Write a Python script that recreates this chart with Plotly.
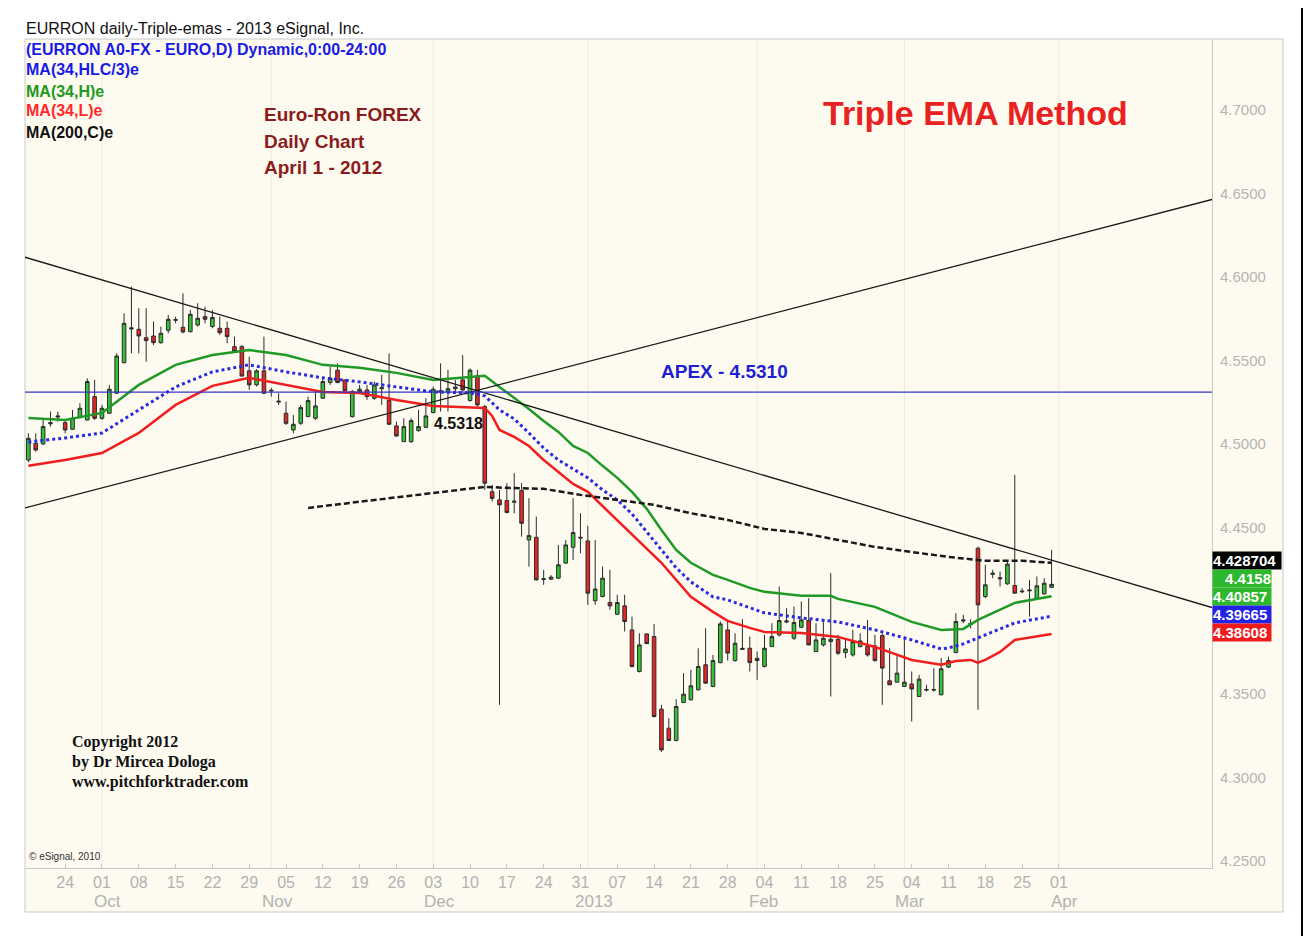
import pandas as pd
import plotly.graph_objects as go

# ---------------- data ----------------
dates = pd.bdate_range("2012-09-17", "2013-03-29")

opens = [4.4903,4.5003,4.4999,4.5120,4.5160,4.5127,4.5087,4.5163,4.5143,4.5283,
         4.5153,4.5183,4.5303,4.5486,4.5695,4.5686,4.5636,4.5646,4.5606,4.5680,
         4.5740,4.5698,4.5672,4.5712,4.5762,4.5703,4.5692,4.5692,4.5582,4.5582,
         4.5437,4.5353,4.5437,4.5316,4.5250,4.5183,4.5083,4.5123,4.5163,4.5153,
         4.5273,4.5367,4.5441,4.5383,4.5163,4.5313,4.5323,4.5273,4.5330,4.5259,
         4.5107,4.5013,4.5013,4.5079,4.5099,4.5187,4.5310,4.5310,4.5330,4.5383,
         4.5259,4.5407,4.5223,4.4713,4.4664,4.4660,4.4650,4.4720,4.4424,4.4440,
         4.4187,4.4189,4.4195,4.4285,4.4380,4.4440,4.4418,4.4060,4.4085,4.4049,
         4.3979,4.4029,4.3885,4.3636,4.3861,4.3845,4.3410,4.3296,4.3222,4.3450,
         4.3466,4.3526,4.3676,4.3546,4.3689,4.3885,4.3701,4.3768,4.3775,4.3715,
         4.3666,4.3785,4.3855,4.3932,4.3835,4.3901,4.3941,4.3755,4.3795,4.3815,
         4.3829,4.3749,4.3735,4.3785,4.3785,4.3789,4.3851,4.3580,4.3572,4.3546,
         4.3561,4.3486,4.3524,4.3524,4.3496,4.3662,4.3749,4.3938,4.3924,4.4374,
         4.4085,4.4218,4.4198,4.4161,4.4151,4.4113,4.4119,4.4075,4.4101,4.4140]
highs = [4.5063,4.5063,4.5143,4.5193,4.5193,4.5143,4.5203,4.5243,4.5393,4.5383,
         4.5233,4.5353,4.5542,4.5782,4.5942,4.5812,4.5812,4.5732,4.5702,4.5772,
         4.5762,4.5902,4.5802,4.5842,4.5822,4.5802,4.5762,4.5732,4.5642,4.5592,
         4.5522,4.5447,4.5642,4.5335,4.5303,4.5253,4.5173,4.5233,4.5283,4.5323,
         4.5403,4.5462,4.5482,4.5385,4.5323,4.5353,4.5353,4.5373,4.5413,4.5542,
         4.5133,4.5153,4.5153,4.5203,4.5273,4.5343,4.5482,4.5443,4.5383,4.5532,
         4.5452,4.5443,4.5233,4.4754,4.4724,4.4764,4.4824,4.4764,4.4674,4.4564,
         4.4245,4.4213,4.4394,4.4424,4.4674,4.4584,4.4508,4.4424,4.4265,4.4245,
         4.4095,4.4095,4.3965,4.3865,4.3865,4.3921,4.3436,4.3356,4.3470,4.3626,
         4.3646,4.3775,4.3895,4.3735,4.3935,4.3935,4.3865,4.3949,4.3845,4.3755,
         4.3855,4.3925,4.4145,4.4015,4.4025,4.4055,4.4075,4.3925,4.3945,4.4225,
         4.3855,4.3825,4.3885,4.3865,4.3945,4.3855,4.3865,4.3775,4.3735,4.3845,
         4.3636,4.3616,4.3556,4.3656,4.3716,4.3725,4.3985,4.3975,4.3949,4.4384,
         4.4275,4.4245,4.4235,4.4304,4.4814,4.4135,4.4185,4.4205,4.4195,4.4364]
lows = [4.4890,4.4953,4.4993,4.5103,4.5133,4.5063,4.5083,4.5153,4.5140,4.5143,
        4.5143,4.5180,4.5300,4.5482,4.5542,4.5542,4.5492,4.5592,4.5600,4.5662,
        4.5722,4.5662,4.5668,4.5702,4.5722,4.5692,4.5652,4.5602,4.5550,4.5402,
        4.5323,4.5343,4.5300,4.5283,4.5233,4.5113,4.5063,4.5113,4.5160,4.5143,
        4.5270,4.5353,4.5363,4.5313,4.5157,4.5303,4.5263,4.5263,4.5233,4.5113,
        4.5043,4.5013,4.5005,4.5073,4.5093,4.5183,4.5193,4.5193,4.5300,4.5313,
        4.5253,4.5223,4.4724,4.4654,4.3436,4.4584,4.4584,4.4444,4.4264,4.4180,
        4.4155,4.4185,4.4189,4.4283,4.4304,4.4344,4.4035,4.4035,4.4080,4.4005,
        4.3975,4.3875,4.3660,4.3630,4.3800,4.3360,4.3154,4.3220,4.3218,4.3446,
        4.3462,4.3522,4.3562,4.3542,4.3685,4.3701,4.3695,4.3765,4.3636,4.3586,
        4.3660,4.3783,4.3845,4.3925,4.3825,4.3895,4.3793,4.3753,4.3785,4.3486,
        4.3735,4.3715,4.3725,4.3780,4.3725,4.3695,4.3436,4.3554,4.3570,4.3544,
        4.3336,4.3484,4.3516,4.3516,4.3494,4.3656,4.3745,4.3925,4.3895,4.3406,
        4.4075,4.4195,4.4145,4.4155,4.4105,4.4105,4.3965,4.4070,4.4095,4.4135]
closes = [4.5033,4.4963,4.5103,4.5126,4.5166,4.5083,4.5153,4.5213,4.5373,4.5153,
          4.5213,4.5327,4.5526,4.5722,4.5689,4.5646,4.5618,4.5606,4.5662,4.5746,
          4.5744,4.5670,4.5776,4.5752,4.5746,4.5757,4.5666,4.5642,4.5552,4.5406,
          4.5353,4.5437,4.5303,4.5320,4.5255,4.5123,4.5117,4.5217,4.5259,4.5227,
          4.5373,4.5393,4.5367,4.5317,4.5313,4.5327,4.5283,4.5353,4.5336,4.5117,
          4.5047,4.5103,4.5139,4.5103,4.5167,4.5327,4.5318,4.5330,4.5340,4.5323,
          4.5441,4.5233,4.4764,4.4673,4.4634,4.4588,4.4656,4.4524,4.4450,4.4185,
          4.4191,4.4201,4.4275,4.4394,4.4468,4.4436,4.4105,4.4130,4.4195,4.4029,
          4.4049,4.3935,4.3666,4.3795,4.3803,4.3366,4.3166,4.3222,4.3426,4.3500,
          4.3550,4.3666,4.3566,4.3701,4.3921,4.3746,4.3805,4.3774,4.3689,4.3701,
          4.3775,4.3845,4.3941,4.3938,4.3929,4.3945,4.3795,4.3825,4.3835,4.3829,
          4.3745,4.3771,4.3815,4.3819,4.3735,4.3701,4.3656,4.3556,4.3626,4.3572,
          4.3531,4.3590,4.3528,4.3528,4.3652,4.3701,4.3935,4.3944,4.3918,4.4035,
          4.4155,4.4224,4.4192,4.4279,4.4105,4.4117,4.4123,4.4149,4.4165,4.4158]

# MA(34,H)e  - green
ema_h_dates = ["2012-09-17","2012-09-24","2012-10-01","2012-10-08","2012-10-15","2012-10-22",
               "2012-10-29","2012-11-05","2012-11-12","2012-11-19","2012-11-26","2012-12-03",
               "2012-12-10","2012-12-12","2012-12-14","2012-12-18","2012-12-20","2012-12-24",
               "2012-12-26","2012-12-28","2013-01-01","2013-01-03","2013-01-07","2013-01-09",
               "2013-01-11","2013-01-15","2013-01-17","2013-01-21","2013-01-24","2013-01-28",
               "2013-01-31","2013-02-04","2013-02-11","2013-02-15","2013-02-18","2013-02-25",
               "2013-03-04","2013-03-08","2013-03-13","2013-03-15","2013-03-20","2013-03-22",
               "2013-03-29"]
ema_h_vals = [4.5155,4.5143,4.5185,4.5353,4.5473,4.5532,4.5562,4.5532,4.5473,4.5455,
              4.5425,4.5383,4.5401,4.5407,4.5341,4.5275,4.5209,4.5137,4.5071,4.4987,
              4.4945,4.4868,4.4796,4.4712,4.4610,4.4484,4.4364,4.4287,4.4215,4.4185,
              4.4137,4.4113,4.4089,4.4089,4.4071,4.4023,4.3933,4.3885,4.3891,4.3945,
              4.4005,4.4047,4.4086]

# MA(34,HLC/3)e - blue
ema_t_dates = ["2012-09-17","2012-09-24","2012-10-01","2012-10-08","2012-10-15","2012-10-22",
               "2012-10-29","2012-11-05","2012-11-12","2012-11-19","2012-11-26","2012-12-03",
               "2012-12-10","2012-12-12","2012-12-14","2012-12-18","2012-12-20","2012-12-24",
               "2012-12-26","2012-12-28","2013-01-01","2013-01-03","2013-01-07","2013-01-09",
               "2013-01-11","2013-01-15","2013-01-17","2013-01-21","2013-01-24","2013-01-28",
               "2013-01-31","2013-02-04","2013-02-11","2013-02-18","2013-02-25","2013-03-04",
               "2013-03-08","2013-03-11","2013-03-13","2013-03-15","2013-03-22","2013-03-29"]
ema_t_vals = [4.5011,4.5035,4.5065,4.5203,4.5341,4.5431,4.5473,4.5431,4.5395,4.5371,
              4.5341,4.5311,4.5305,4.5287,4.5203,4.5149,4.5065,4.4975,4.4903,4.4850,
              4.4796,4.4724,4.4664,4.4580,4.4472,4.4364,4.4257,4.4173,4.4083,4.4065,
              4.4017,4.3987,4.3957,4.3933,4.3885,4.3825,4.3771,4.3777,4.3801,4.3837,
              4.3927,4.3967]

# MA(34,L)e - red
ema_l_dates = ["2012-09-17","2012-09-24","2012-10-01","2012-10-08","2012-10-15","2012-10-22",
               "2012-10-29","2012-11-05","2012-11-12","2012-11-19","2012-11-26","2012-12-03",
               "2012-12-10","2012-12-12","2012-12-13","2012-12-14","2012-12-18","2012-12-20",
               "2012-12-24","2012-12-26","2012-12-28","2013-01-01","2013-01-03","2013-01-07",
               "2013-01-09","2013-01-11","2013-01-15","2013-01-17","2013-01-21","2013-01-24",
               "2013-01-28","2013-01-31","2013-02-04","2013-02-11","2013-02-18","2013-02-25",
               "2013-03-04","2013-03-08","2013-03-12","2013-03-14","2013-03-15","2013-03-18",
               "2013-03-20","2013-03-22","2013-03-29"]
ema_l_vals = [4.4868,4.4903,4.4945,4.5065,4.5233,4.5347,4.5395,4.5353,4.5311,4.5305,
              4.5263,4.5227,4.5221,4.5215,4.5167,4.5083,4.5041,4.4987,4.4903,4.4832,
              4.4760,4.4712,4.4628,4.4538,4.4454,4.4376,4.4287,4.4185,4.4083,4.3993,
              4.3939,4.3897,4.3873,4.3867,4.3843,4.3783,4.3705,4.3676,4.3699,4.3705,
              4.3688,4.3705,4.3753,4.3825,4.3861]

# MA(200,C)e - black dashed
ema_c_dates = ["2012-11-08","2012-11-19","2012-11-26","2012-12-03","2012-12-10","2012-12-12",
               "2012-12-17","2012-12-24","2012-12-31","2013-01-07","2013-01-14","2013-01-21",
               "2013-01-28","2013-02-04","2013-02-11","2013-02-18","2013-02-25","2013-03-04",
               "2013-03-11","2013-03-18","2013-03-25","2013-03-29"]
ema_c_vals = [4.4616,4.4652,4.4682,4.4706,4.4730,4.4742,4.4736,4.4730,4.4694,4.4664,
              4.4634,4.4584,4.4544,4.4490,4.4466,4.4424,4.4382,4.4352,4.4322,4.4299,
              4.4299,4.4287]

# trend lines (value at left and right edge of the plot) and apex
down_line = [4.6118, 4.4019]
up_line = [4.4616, 4.6464]
apex_level = 4.5310

# last-value labels (drawn in this order)
last_labels = ["4.428704", "4.40857", "4.4158", "4.39665", "4.38608"]
last_values = [4.428704, 4.40857, 4.4158, 4.39665, 4.38608]
last_colors = ["#000000", "#2DB82D", "#2DB82D", "#2323E6", "#EE1C1C"]

x_tick_dates = ["2012-09-24","2012-10-01","2012-10-08","2012-10-15","2012-10-22","2012-10-29",
                "2012-11-05","2012-11-12","2012-11-19","2012-11-26","2012-12-03","2012-12-10",
                "2012-12-17","2012-12-24","2012-12-31","2013-01-07","2013-01-14","2013-01-21",
                "2013-01-28","2013-02-04","2013-02-11","2013-02-18","2013-02-25","2013-03-04",
                "2013-03-11","2013-03-18","2013-03-25","2013-04-01"]
x_tick_text = ["24","01","08","15","22","29","05","12","19","26","03","10","17","24",
               "31","07","14","21","28","04","11","18","25","04","11","18","25","01"]
month_dates = ["2012-10-01","2012-11-01","2012-12-03","2013-01-01","2013-02-01","2013-03-01","2013-04-01"]
month_text = ["Oct","Nov","Dec","2013","Feb","Mar","Apr"]
y_tick_vals = [4.25,4.30,4.35,4.40,4.45,4.50,4.55,4.60,4.65,4.70]
y_tick_text = ["4.2500","4.3000","4.3500","4.4000","4.4500","4.5000","4.5500","4.6000","4.6500","4.7000"]

# ---------------- layout helpers ----------------
# page body adds an 8px margin, so the figure is 8px smaller and shifted
W, H = 1304, 928
ML, MR, MT, MB = 17, 100, 31, 68
PW, PH = W - ML - MR, H - MT - MB
OFF = 8
def PX(px):
    return (px - OFF - ML) / PW
def PY(py):
    return (MT + PH - (py - OFF)) / PH

X_START, X_END = "2012-09-14 13:00", "2013-04-29 19:00"
CREAM = "#FDFAF0"
SANS = "Liberation Sans, Arial, sans-serif"
SERIF = "Liberation Serif, Times New Roman, serif"
AXIS_GRAY = "#B2B2B2"

fig = go.Figure()

fig.add_trace(go.Candlestick(
    x=dates, open=opens, high=highs, low=lows, close=closes,
    increasing=dict(fillcolor="#36C236", line=dict(color="#2B2B2B", width=1)),
    decreasing=dict(fillcolor="#E42626", line=dict(color="#2B2B2B", width=1)),
    whiskerwidth=0, showlegend=False, hoverinfo="skip"))

fig.add_trace(go.Scatter(x=ema_h_dates, y=ema_h_vals, mode="lines",
                         line=dict(color="#1F9A26", width=2.5), showlegend=False))
fig.add_trace(go.Scatter(x=ema_t_dates, y=ema_t_vals, mode="lines",
                         line=dict(color="#2A2AE0", width=3, dash="dot"), showlegend=False))
fig.add_trace(go.Scatter(x=ema_l_dates, y=ema_l_vals, mode="lines",
                         line=dict(color="#F01E1E", width=2.5), showlegend=False))
fig.add_trace(go.Scatter(x=ema_c_dates, y=ema_c_vals, mode="lines",
                         line=dict(color="#1A1A1A", width=2.5, dash="6px,3px"), showlegend=False))

shapes = []
shapes.append(dict(type="rect", xref="paper", yref="paper", x0=PX(25), x1=PX(1283), y0=PY(912), y1=PY(39),
                   fillcolor=CREAM, line=dict(color="#C9C9C9", width=1), layer="below"))
shapes.append(dict(type="rect", xref="paper", yref="paper", x0=PX(7), x1=PX(1302), y0=PY(950), y1=PY(7),
                   fillcolor="rgba(0,0,0,0)", line=dict(color="#000000", width=2), layer="above"))
for d in month_dates:
    shapes.append(dict(type="line", xref="x", yref="paper", x0=d, x1=d, y0=0, y1=1,
                       line=dict(color="#EEEADC", width=1), layer="below"))
shapes.append(dict(type="line", xref="x", yref="y", x0=X_START, x1=X_END, y0=down_line[0], y1=down_line[1],
                   line=dict(color="#1A1A1A", width=1.3)))
shapes.append(dict(type="line", xref="x", yref="y", x0=X_START, x1=X_END, y0=up_line[0], y1=up_line[1],
                   line=dict(color="#1A1A1A", width=1.3)))
shapes.append(dict(type="line", xref="x", yref="y", x0=X_START, x1=X_END, y0=apex_level, y1=apex_level,
                   line=dict(color="#3535C8", width=1.2)))

ann = []
def txt(t, px, py, size, color, bold=False, family=SANS, xanchor="left"):
    ann.append(dict(text=("<b>%s</b>" % t) if bold else t, xref="paper", yref="paper",
                    x=PX(px), y=PY(py), xanchor=xanchor, yanchor="middle", showarrow=False,
                    font=dict(family=family, size=size, color=color)))

txt("EURRON daily-Triple-emas - 2013 eSignal, Inc.", 24, 28, 16, "#111111")
txt("(EURRON A0-FX - EURO,D) Dynamic,0:00-24:00", 24, 49, 16, "#1A1AE6", bold=True)
txt("MA(34,HLC/3)e", 24, 70, 16, "#1A1AE6", bold=True)
txt("MA(34,H)e", 24, 91, 16, "#1E9A1E", bold=True)
txt("MA(34,L)e", 24, 111, 16, "#FF2A2A", bold=True)
txt("MA(200,C)e", 24, 133, 16, "#111111", bold=True)
txt("Euro-Ron FOREX", 262, 114, 19, "#8B1C1C", bold=True)
txt("Daily Chart", 262, 141, 19, "#8B1C1C", bold=True)
txt("April 1 - 2012", 262, 167, 19, "#8B1C1C", bold=True)
txt("Triple EMA Method", 975, 113, 34, "#E82222", bold=True, xanchor="center")
txt("APEX - 4.5310", 724, 371, 19, "#1F1FD0", bold=True, xanchor="center")
txt("4.5318", 432, 423, 16, "#111111", bold=True)
txt("Copyright 2012", 70, 742, 16, "#111111", bold=True, family=SERIF)
txt("by Dr Mircea Dologa", 70, 762, 16, "#111111", bold=True, family=SERIF)
txt("www.pitchforktrader.com", 70, 782, 16, "#111111", bold=True, family=SERIF)
txt("© eSignal, 2010", 27, 856, 10, "#333333")

for d, t in zip(month_dates, month_text):
    ann.append(dict(text=t, xref="x", yref="paper", x=d, y=PY(901), xanchor="center", yanchor="middle",
                    xshift=6, showarrow=False, font=dict(family=SANS, size=17, color=AXIS_GRAY)))

# small pixel nudges so the stacked value boxes sit one above the other
label_shift = {"4.428704": 2, "4.40857": 0, "4.4158": 6, "4.39665": 2, "4.38608": 1}
for t, v, c in zip(last_labels, last_values, last_colors):
    ann.append(dict(text="<b>%s</b>" % t, xref="paper", yref="y", x=PX(1212), y=v, xanchor="left",
                    yanchor="middle", yshift=label_shift[t], showarrow=False, bgcolor=c, borderpad=0,
                    width=68 if len(t) > 7 else 58, height=17,
                    align="right" if t == "4.4158" else "left",
                    font=dict(family=SANS, size=15, color="#FFFFFF")))

fig.update_layout(
    width=W, height=H, margin=dict(l=ML, r=MR, t=MT, b=MB),
    paper_bgcolor="#FFFFFF", plot_bgcolor="rgba(0,0,0,0)",
    shapes=shapes, annotations=ann, showlegend=False,
    xaxis=dict(type="date", range=[X_START, X_END], rangeslider=dict(visible=False),
               rangebreaks=[dict(bounds=["sat", "mon"])],
               tickmode="array", tickvals=x_tick_dates, ticktext=x_tick_text,
               showgrid=False, zeroline=False, showline=True, linecolor="#C8C8C8", linewidth=1,
               ticks="inside", ticklen=4, tickcolor="#C8C8C8",
               tickfont=dict(family=SANS, size=16, color=AXIS_GRAY)),
    yaxis=dict(side="right", range=[4.24584, 4.74254], tickmode="array",
               tickvals=y_tick_vals, ticktext=y_tick_text, showgrid=False, zeroline=False,
               showline=True, linecolor="#C8C8C8", linewidth=1, ticks="",
               ticklabelstandoff=4,
               tickfont=dict(family=SANS, size=15, color="#B5B5B5")),
)

fig.write_html("out.html")
